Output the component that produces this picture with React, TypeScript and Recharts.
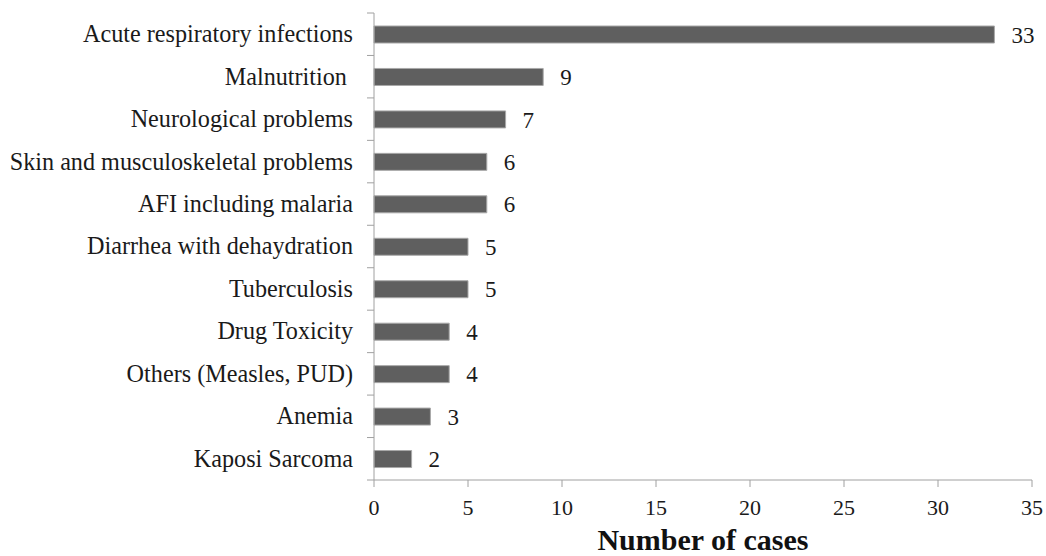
import React from 'react';
import { BarChart, Bar, XAxis, YAxis, LabelList } from 'recharts';

const categories = [
  'Acute respiratory infections',
  'Malnutrition\u00a0',
  'Neurological problems',
  'Skin and musculoskeletal problems',
  'AFI including malaria',
  'Diarrhea with dehaydration',
  'Tuberculosis',
  'Drug Toxicity',
  'Others (Measles, PUD)',
  'Anemia',
  'Kaposi Sarcoma',
];
const cases = [33, 9, 7, 6, 6, 5, 5, 4, 4, 3, 2];
const xTicks = [0, 5, 10, 15, 20, 25, 30, 35];

const data = categories.map((name, i) => ({ name, cases: cases[i] }));

const W = 1046;
const H = 556;
const TOP = 13;
const XAXIS_H = 76;
const YAXIS_W = 374;
const TICK = 7;
const TICK_MARGIN = 14;
const BAND = (H - TOP - XAXIS_H) / categories.length;
const AXIS_COLOR = '#a0a0a0';
const SERIF = '"Liberation Serif", "Times New Roman", serif';

const YTick = (props: any) => {
  const { x, y, payload, index } = props;
  const axisX = x + TICK + TICK_MARGIN;
  const top = y - BAND / 2;
  const bottom = y + BAND / 2;
  return (
    <g>
      <line x1={axisX - TICK} x2={axisX} y1={top} y2={top} stroke={AXIS_COLOR} strokeWidth={1} />
      {index === categories.length - 1 && (
        <line x1={axisX - TICK} x2={axisX} y1={bottom} y2={bottom} stroke={AXIS_COLOR} strokeWidth={1} />
      )}
      <text x={x} y={y} dy="0.33em" textAnchor="end" fontFamily={SERIF} fontSize={24.2} fill="#1a1a1a" style={{ whiteSpace: 'pre' }}>
        {payload.value}
      </text>
    </g>
  );
};

export default function App() {
  return (
    <div style={{ position: 'absolute', left: 0, top: 0, width: W, height: H, background: '#fff' }}>
      <BarChart
        width={W}
        height={H}
        data={data}
        layout="vertical"
        margin={{ top: TOP, right: 14, bottom: 0, left: 0 }}
        barCategoryGap={0}
      >
        <XAxis
          type="number"
          domain={[0, 35]}
          ticks={xTicks}
          interval={0}
          height={XAXIS_H}
          stroke={AXIS_COLOR}
          tickSize={TICK}
          tickMargin={12}
          tick={{ fontFamily: SERIF, fontSize: 22, fill: '#1a1a1a' }}
          label={{
            value: 'Number of cases',
            position: 'insideBottom',
            offset: 6,
            style: { fontFamily: SERIF, fontSize: 30, fontWeight: 'bold', fill: '#111' },
          }}
        />
        <YAxis
          type="category"
          dataKey="name"
          width={YAXIS_W}
          stroke={AXIS_COLOR}
          tickLine={false}
          tickSize={TICK}
          tickMargin={TICK_MARGIN}
          interval={0}
          tick={<YTick />}
        />
        <Bar dataKey="cases" fill="#5f5f5f" stroke="#a8a8a8" strokeWidth={1} barSize={17} isAnimationActive={false}>
          <LabelList
            dataKey="cases"
            position="right"
            offset={17}
            style={{ fontFamily: SERIF, fontSize: 23, fill: '#1a1a1a' }}
          />
        </Bar>
      </BarChart>
    </div>
  );
}
